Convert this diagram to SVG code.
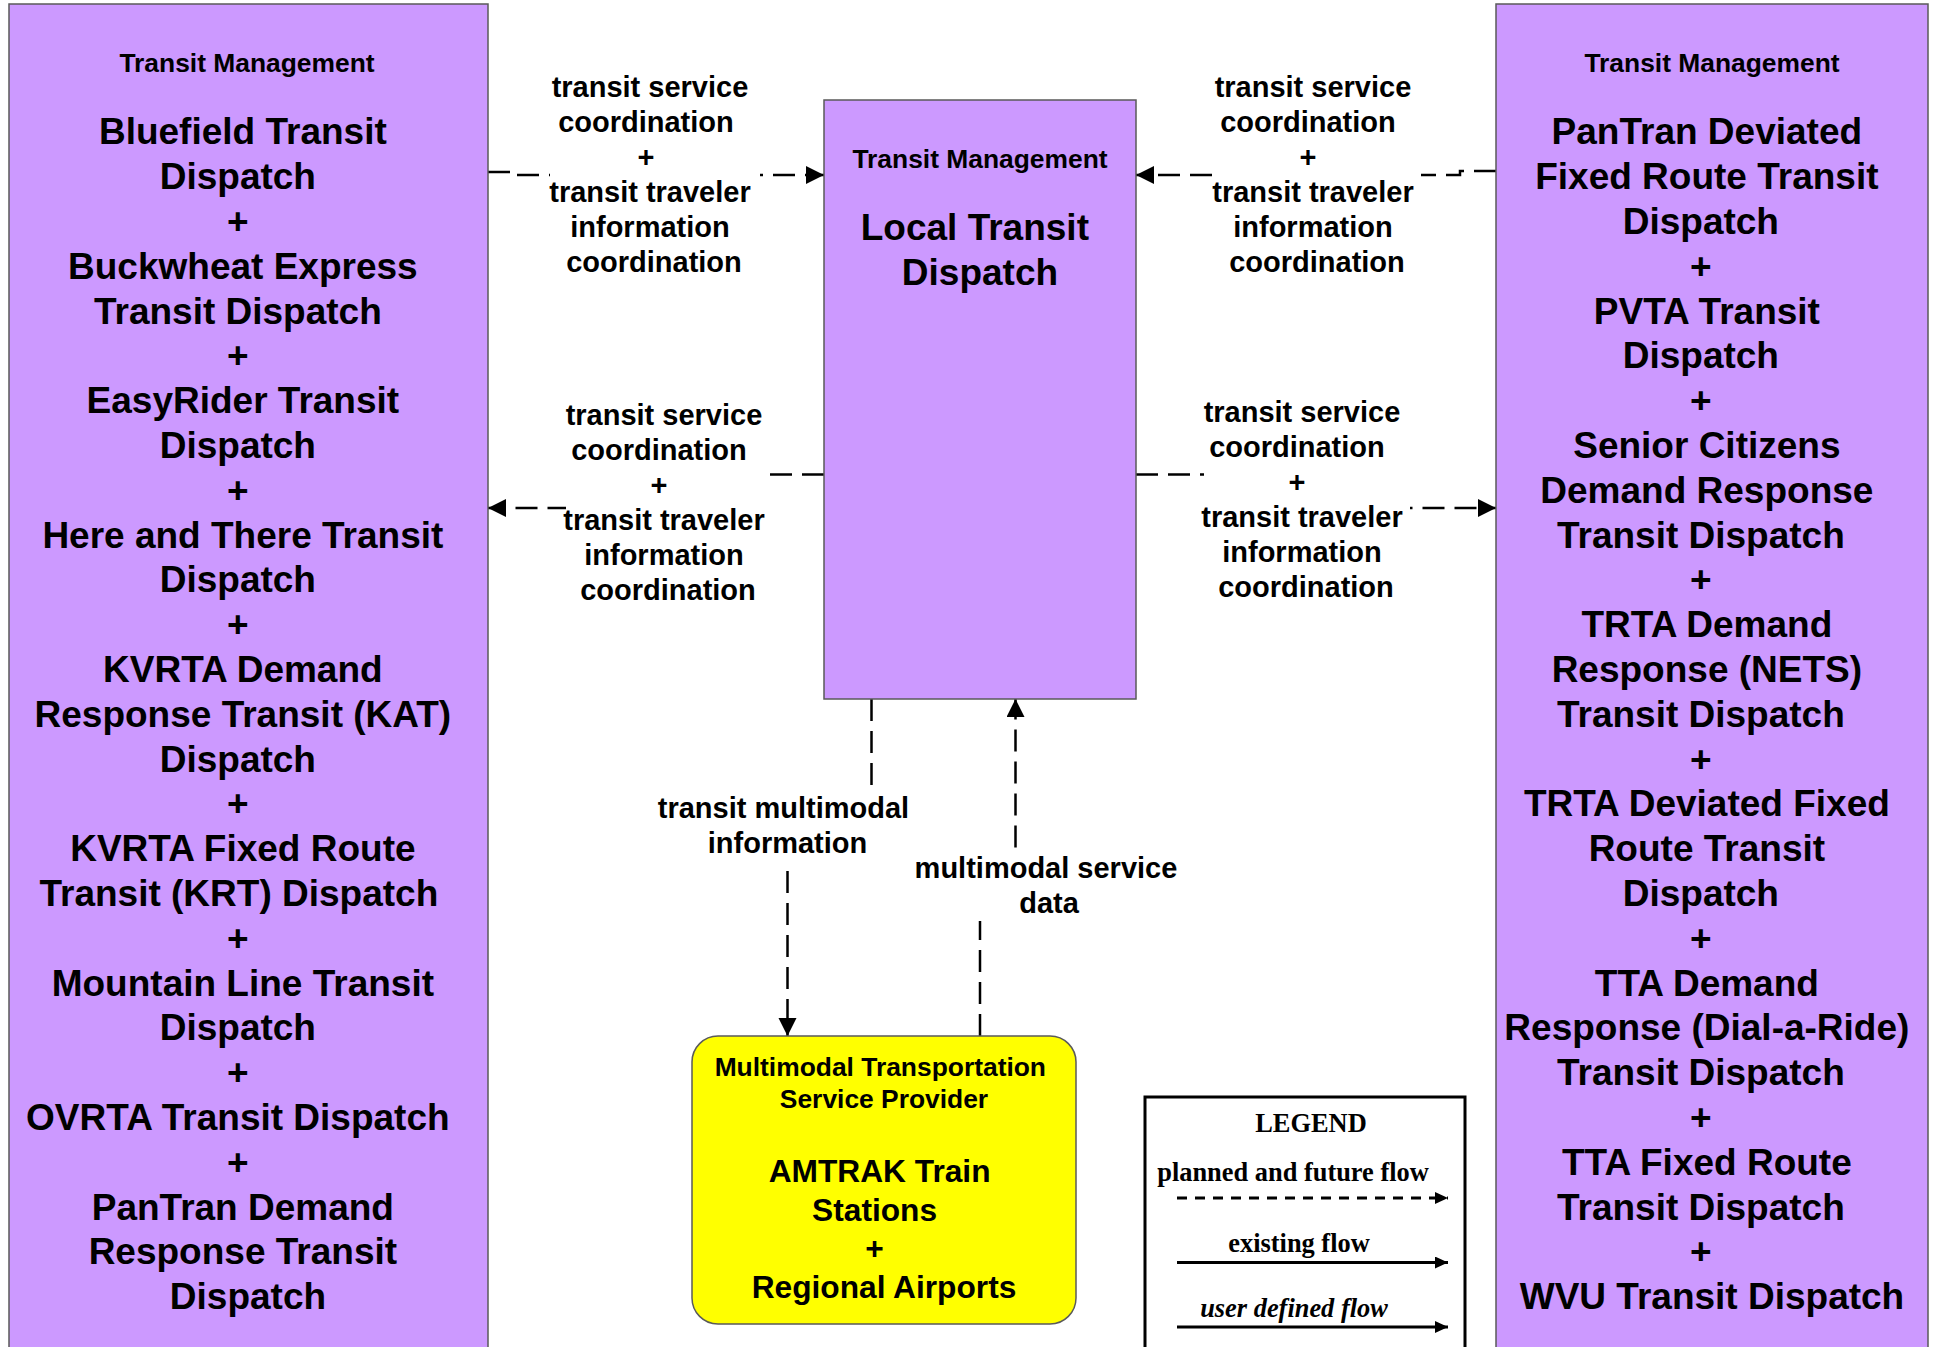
<svg xmlns="http://www.w3.org/2000/svg" width="1937" height="1347" viewBox="0 0 1937 1347">
<style>
.box{fill:#CC99FF;stroke:#5a5a5a;stroke-width:1.5}
.ybox{fill:#FFFF00;stroke:#5a5a5a;stroke-width:1.5}
.t{font-family:"Liberation Sans",Arial,sans-serif;font-weight:bold;fill:#000;text-anchor:middle}
.ttl{font-size:26.4px}
.big{font-size:37px}
.mid{font-size:31.7px}
.fl{font-size:29px}
.flow{fill:none;stroke:#000;stroke-width:2.5;stroke-dasharray:22 10}
.lbg{fill:#fff;stroke:none}
.lg{font-family:"Liberation Serif","Times New Roman",serif;font-weight:bold;font-size:26.4px;fill:#000;text-anchor:middle}
</style>
<defs>
<marker id="ah" markerUnits="userSpaceOnUse" markerWidth="20" markerHeight="20" refX="18" refY="9" orient="auto">
<path d="M0,0 L18,9 L0,18 z" fill="#000"/>
</marker>
<marker id="lah" markerUnits="userSpaceOnUse" markerWidth="14" markerHeight="12" refX="13" refY="6" orient="auto">
<path d="M0,0 L13,6 L0,12 z" fill="#000"/>
</marker>
</defs>
<rect x="0" y="0" width="1937" height="1347" fill="#fff"/>

<g id="connectors">
<path class="flow" d="M488,172 L516,172 L516,175 L824,175" marker-end="url(#ah)"/>
<path class="flow" d="M1496,171 L1460,171 L1460,175 L1136,175" marker-end="url(#ah)"/>
<path class="flow" d="M824,474.5 L668,474.5 L668,508 L488,508" marker-end="url(#ah)"/>
<path class="flow" d="M1136,474.5 L1306,474.5 L1306,508 L1496,508" marker-end="url(#ah)"/>
<path class="flow" d="M871.5,699 L871.5,826 L787.5,826 L787.5,1036" marker-end="url(#ah)"/>
<path class="flow" d="M980,1036 L980,885 L1015.5,885 L1015.5,699" marker-end="url(#ah)"/>
</g>

<g id="labels">
<g id="lbl-top-left">
<rect class="lbg" x="550" y="68" width="210" height="212"/>
<text class="t fl">
<tspan x="654" y="97">transit service</tspan>
<tspan x="650" y="132">coordination</tspan>
<tspan x="650" y="167">+</tspan>
<tspan x="654" y="202">transit traveler</tspan>
<tspan x="654" y="237">information</tspan>
<tspan x="654" y="272">coordination</tspan>
</text>
</g>
<g id="lbl-top-right">
<rect class="lbg" x="1213" y="68" width="208" height="212"/>
<text class="t fl">
<tspan x="1317" y="97">transit service</tspan>
<tspan x="1312" y="132">coordination</tspan>
<tspan x="1312" y="167">+</tspan>
<tspan x="1317" y="202">transit traveler</tspan>
<tspan x="1317" y="237">information</tspan>
<tspan x="1317" y="272">coordination</tspan>
</text>
</g>
<g id="lbl-mid-left">
<rect class="lbg" x="566" y="395" width="204" height="213"/>
<text class="t fl">
<tspan x="668" y="425.4">transit service</tspan>
<tspan x="663" y="460.4">coordination</tspan>
<tspan x="663" y="495.4">+</tspan>
<tspan x="668" y="530.4">transit traveler</tspan>
<tspan x="668" y="565.4">information</tspan>
<tspan x="668" y="600.4">coordination</tspan>
</text>
</g>
<g id="lbl-mid-right">
<rect class="lbg" x="1204" y="393" width="206" height="213"/>
<text class="t fl">
<tspan x="1306" y="422.4">transit service</tspan>
<tspan x="1301" y="457.4">coordination</tspan>
<tspan x="1301" y="492.4">+</tspan>
<tspan x="1306" y="527.4">transit traveler</tspan>
<tspan x="1306" y="562.4">information</tspan>
<tspan x="1306" y="597.4">coordination</tspan>
</text>
</g>
<g id="lbl-tmi">
<rect class="lbg" x="660" y="786" width="255" height="80"/>
<text class="t fl">
<tspan x="787.5" y="818.4">transit multimodal</tspan>
<tspan x="787.5" y="853.4">information</tspan>
</text>
</g>
<g id="lbl-msd">
<rect class="lbg" x="916" y="850" width="268" height="71"/>
<text class="t fl">
<tspan x="1050" y="878.4">multimodal service</tspan>
<tspan x="1049" y="913.4">data</tspan>
</text>
</g>
</g>

<g id="node-left">
<rect class="box" x="9" y="4" width="479" height="1360"/>
<text class="t ttl" x="247" y="71.5">Transit Management</text>
<text class="t big">
<tspan x="248" y="144.3">Bluefield Transit</tspan>
<tspan x="243" y="189.1">Dispatch</tspan>
<tspan x="243" y="233.9">+</tspan>
<tspan x="248" y="278.7">Buckwheat Express</tspan>
<tspan x="243" y="323.5">Transit Dispatch</tspan>
<tspan x="243" y="368.3">+</tspan>
<tspan x="248" y="413.1">EasyRider Transit</tspan>
<tspan x="243" y="457.9">Dispatch</tspan>
<tspan x="243" y="502.7">+</tspan>
<tspan x="248" y="547.5">Here and There Transit</tspan>
<tspan x="243" y="592.3">Dispatch</tspan>
<tspan x="243" y="637.1">+</tspan>
<tspan x="248" y="681.9">KVRTA Demand</tspan>
<tspan x="248" y="726.7">Response Transit (KAT)</tspan>
<tspan x="243" y="771.5">Dispatch</tspan>
<tspan x="243" y="816.3">+</tspan>
<tspan x="248" y="861.1">KVRTA Fixed Route</tspan>
<tspan x="244" y="905.9">Transit (KRT) Dispatch</tspan>
<tspan x="243" y="950.7">+</tspan>
<tspan x="248" y="995.5">Mountain Line Transit</tspan>
<tspan x="243" y="1040.3">Dispatch</tspan>
<tspan x="243" y="1085.1">+</tspan>
<tspan x="243" y="1129.9">OVRTA Transit Dispatch</tspan>
<tspan x="243" y="1174.7">+</tspan>
<tspan x="248" y="1219.5">PanTran Demand</tspan>
<tspan x="248" y="1264.3">Response Transit</tspan>
<tspan x="248" y="1308.6">Dispatch</tspan>
</text>
</g>

<g id="node-center">
<rect class="box" x="824" y="100" width="312" height="599"/>
<text class="t ttl" x="980" y="167.5">Transit Management</text>
<text class="t big">
<tspan x="980" y="240.3">Local Transit</tspan>
<tspan x="980" y="285.3">Dispatch</tspan>
</text>
</g>

<g id="node-right">
<rect class="box" x="1496" y="4" width="432" height="1360"/>
<text class="t ttl" x="1712" y="71.5">Transit Management</text>
<text class="t big">
<tspan x="1712" y="144.3">PanTran Deviated</tspan>
<tspan x="1712" y="189.1">Fixed Route Transit</tspan>
<tspan x="1706" y="233.9">Dispatch</tspan>
<tspan x="1706" y="278.7">+</tspan>
<tspan x="1712" y="323.5">PVTA Transit</tspan>
<tspan x="1706" y="368.3">Dispatch</tspan>
<tspan x="1706" y="413.1">+</tspan>
<tspan x="1712" y="457.9">Senior Citizens</tspan>
<tspan x="1712" y="502.7">Demand Response</tspan>
<tspan x="1706" y="547.5">Transit Dispatch</tspan>
<tspan x="1706" y="592.3">+</tspan>
<tspan x="1712" y="637.1">TRTA Demand</tspan>
<tspan x="1712" y="681.9">Response (NETS)</tspan>
<tspan x="1706" y="726.7">Transit Dispatch</tspan>
<tspan x="1706" y="771.5">+</tspan>
<tspan x="1712" y="816.3">TRTA Deviated Fixed</tspan>
<tspan x="1712" y="861.1">Route Transit</tspan>
<tspan x="1706" y="905.9">Dispatch</tspan>
<tspan x="1706" y="950.7">+</tspan>
<tspan x="1712" y="995.5">TTA Demand</tspan>
<tspan x="1712" y="1040.3">Response (Dial-a-Ride)</tspan>
<tspan x="1706" y="1085.1">Transit Dispatch</tspan>
<tspan x="1706" y="1129.9">+</tspan>
<tspan x="1712" y="1174.7">TTA Fixed Route</tspan>
<tspan x="1706" y="1219.5">Transit Dispatch</tspan>
<tspan x="1706" y="1264.3">+</tspan>
<tspan x="1712" y="1309.1">WVU Transit Dispatch</tspan>
</text>
</g>

<g id="node-mtsp">
<rect class="ybox" x="692" y="1036" width="384" height="288" rx="26" ry="26"/>
<text class="t ttl">
<tspan x="884" y="1075.5">Multimodal Transportation</tspan>
<tspan x="884" y="1107.5">Service Provider</tspan>
</text>
<text class="t mid">
<tspan x="884" y="1182.4">AMTRAK Train</tspan>
<tspan x="879" y="1220.9">Stations</tspan>
<tspan x="879" y="1259.4">+</tspan>
<tspan x="884" y="1297.9">Regional Airports</tspan>
</text>
</g>

<g id="legend">
<rect x="1145" y="1097" width="320" height="270" fill="#fff" stroke="#000" stroke-width="3"/>
<text class="lg" x="1311" y="1131.5">LEGEND</text>
<text class="lg" x="1293" y="1181">planned and future flow</text>
<line x1="1177" y1="1198" x2="1448" y2="1198" stroke="#000" stroke-width="3" stroke-dasharray="10 8" marker-end="url(#lah)"/>
<text class="lg" x="1299" y="1252">existing flow</text>
<line x1="1177" y1="1262.5" x2="1448" y2="1262.5" stroke="#000" stroke-width="3" marker-end="url(#lah)"/>
<text class="lg" x="1294" y="1317" font-style="italic">user defined flow</text>
<line x1="1177" y1="1327" x2="1448" y2="1327" stroke="#000" stroke-width="3" marker-end="url(#lah)"/>
</g>
</svg>
